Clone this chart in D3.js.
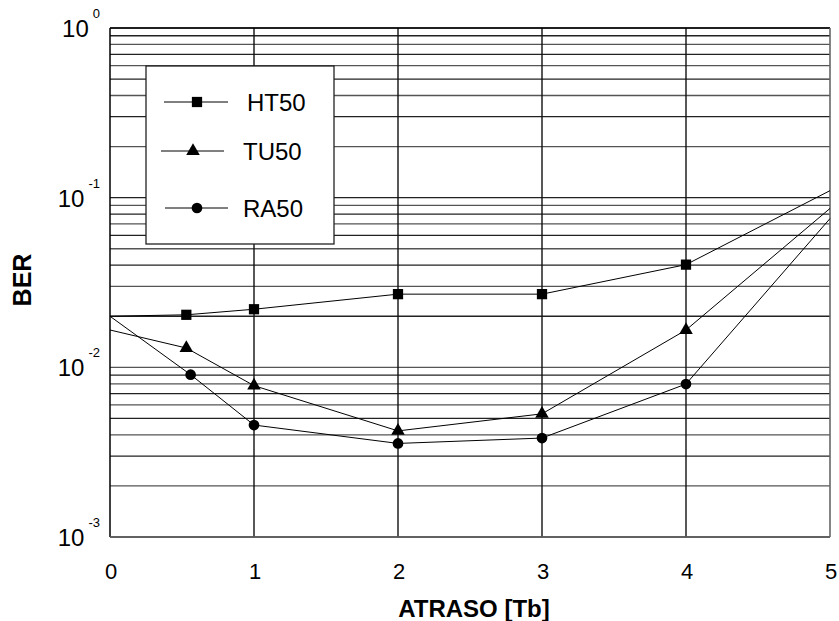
<!DOCTYPE html>
<html>
<head>
<meta charset="utf-8">
<script src="https://cdn.jsdelivr.net/npm/d3@7/dist/d3.min.js"></script>
<style>
  html, body { margin: 0; padding: 0; background: #fff; }
  svg { display: block; font-family: "Liberation Sans", Arial, Helvetica, sans-serif; }
</style>
</head>
<body>
<svg id="chart" width="839" height="621"></svg>
<script>
// ---- data ----
const xTicks = [0, 1, 2, 3, 4, 5];
const yDecades = [1, 0.1, 0.01, 0.001];
const yTickExponents = ["0", "-1", "-2", "-3"];
const seriesNames = ["HT50", "TU50", "RA50"];

const htX = [0, 0.53, 1, 2, 3, 4, 5];
const htY = [0.0200, 0.0204, 0.0220, 0.0270, 0.0270, 0.0403, 0.110];

const tuX = [0, 0.53, 1, 2, 3, 4, 5];
const tuY = [0.0166, 0.0130, 0.0078, 0.00422, 0.00532, 0.0166, 0.0864];

const raX = [0, 0.56, 1, 2, 3, 4, 5];
const raY = [0.0200, 0.00905, 0.00457, 0.00356, 0.00383, 0.00797, 0.0753];

// ---- layout ----
(function () {
const svg = d3.select("#chart");
const pL = 110, pR = 830, pT = 28, pB = 537;

const x = d3.scaleLinear().domain([0, 5]).range([pL, pR]);
const y = d3.scaleLog().domain([0.001, 1]).range([pB, pT]);

// horizontal log grid (minor + major)
const gridVals = [];
for (let e = -3; e < 0; e++) {
  for (let m = 1; m <= 9; m++) gridVals.push(m * Math.pow(10, e));
}
gridVals.push(1);

const grid = svg.append("g");
grid.selectAll("line.h").data(gridVals).enter().append("line")
  .attr("class", "h")
  .attr("x1", pL).attr("x2", pR)
  .attr("y1", d => y(d)).attr("y2", d => y(d))
  .attr("stroke", (d, i) => (i % 2 ? "#555" : "#222"))
  .attr("stroke-width", 1.3);

// vertical grid at integer x
grid.selectAll("line.v").data(xTicks.slice(1, -1)).enter().append("line")
  .attr("class", "v")
  .attr("x1", d => x(d)).attr("x2", d => x(d))
  .attr("y1", pT).attr("y2", pB)
  .attr("stroke", "#111").attr("stroke-width", 1.4);

// frame
svg.append("line").attr("x1", pL).attr("x2", pL).attr("y1", pT).attr("y2", pB)
  .attr("stroke", "#000").attr("stroke-width", 1.5);
svg.append("line").attr("x1", pL).attr("x2", pR).attr("y1", pT).attr("y2", pT)
  .attr("stroke", "#000").attr("stroke-width", 1.5);
svg.append("line").attr("x1", pL).attr("x2", pR).attr("y1", pB).attr("y2", pB)
  .attr("stroke", "#666").attr("stroke-width", 1.6);
svg.append("line").attr("x1", pR).attr("x2", pR).attr("y1", pT).attr("y2", pB)
  .attr("stroke", "#666").attr("stroke-width", 1.6);

// series
const symbols = [d3.symbolSquare, d3.symbolTriangle, d3.symbolCircle];
const symSizes = [105, 80, 90];
const series = [
  { xs: htX, ys: htY },
  { xs: tuX, ys: tuY },
  { xs: raX, ys: raY }
];
const line = d3.line().x(d => x(d[0])).y(d => y(d[1]));

series.forEach((s, k) => {
  const pts = s.xs.map((v, i) => [v, s.ys[i]]);
  svg.append("path").datum(pts)
    .attr("d", line).attr("fill", "none")
    .attr("stroke", "#000").attr("stroke-width", 1);
  svg.append("g").selectAll("path").data(pts.filter(p => p[0] > 0 && p[0] < 5)).enter()
    .append("path")
    .attr("transform", d => `translate(${x(d[0])},${y(d[1])})`)
    .attr("d", d3.symbol().type(symbols[k]).size(symSizes[k]))
    .attr("fill", "#000");
});

// legend
const lg = svg.append("g");
lg.append("rect").attr("x", 146).attr("y", 66).attr("width", 188).attr("height", 178)
  .attr("fill", "#fff").attr("stroke", "#222").attr("stroke-width", 1.3);
const legRows = [
  { ly: 102, x1: 164, x2: 228, mx: 197, tx: 247 },
  { ly: 151, x1: 161, x2: 224, mx: 193, tx: 243 },
  { ly: 208, x1: 165, x2: 228, mx: 197, tx: 243 }
];
legRows.forEach((r, k) => {
  lg.append("line").attr("x1", r.x1).attr("x2", r.x2).attr("y1", r.ly).attr("y2", r.ly)
    .attr("stroke", "#000").attr("stroke-width", 1);
  lg.append("path").attr("transform", `translate(${r.mx},${r.ly})`)
    .attr("d", d3.symbol().type(symbols[k]).size(symSizes[k])).attr("fill", "#000");
  lg.append("text").attr("x", r.tx).attr("y", r.ly + 8.5)
    .attr("font-size", 24).attr("fill", "#000").text(seriesNames[k]);
});

// x tick labels
svg.append("g").selectAll("text").data(xTicks).enter().append("text")
  .attr("x", d => x(d) + 1).attr("y", 579)
  .attr("text-anchor", "middle").attr("font-size", 22).attr("fill", "#000")
  .text(d => d);

// y tick labels 10^n
const yl = svg.append("g").selectAll("text").data(yDecades).enter().append("text")
  .attr("x", 100).attr("y", d => y(d) + 9)
  .attr("text-anchor", "end").attr("font-size", 24).attr("fill", "#000");
yl.append("tspan").text("10");
yl.append("tspan").attr("font-size", 13).attr("dy", -19).attr("dx", 4)
  .text((d, i) => yTickExponents[i]);

// axis titles
svg.append("text").attr("x", 474).attr("y", 617).attr("text-anchor", "middle")
  .attr("font-size", 24).attr("font-weight", "bold").attr("fill", "#000")
  .text("ATRASO [Tb]");
svg.append("text").attr("transform", "translate(31,280) rotate(-90)")
  .attr("text-anchor", "middle").attr("font-size", 25).attr("font-weight", "bold")
  .attr("fill", "#000").text("BER");
})();
</script>
</body>
</html>
